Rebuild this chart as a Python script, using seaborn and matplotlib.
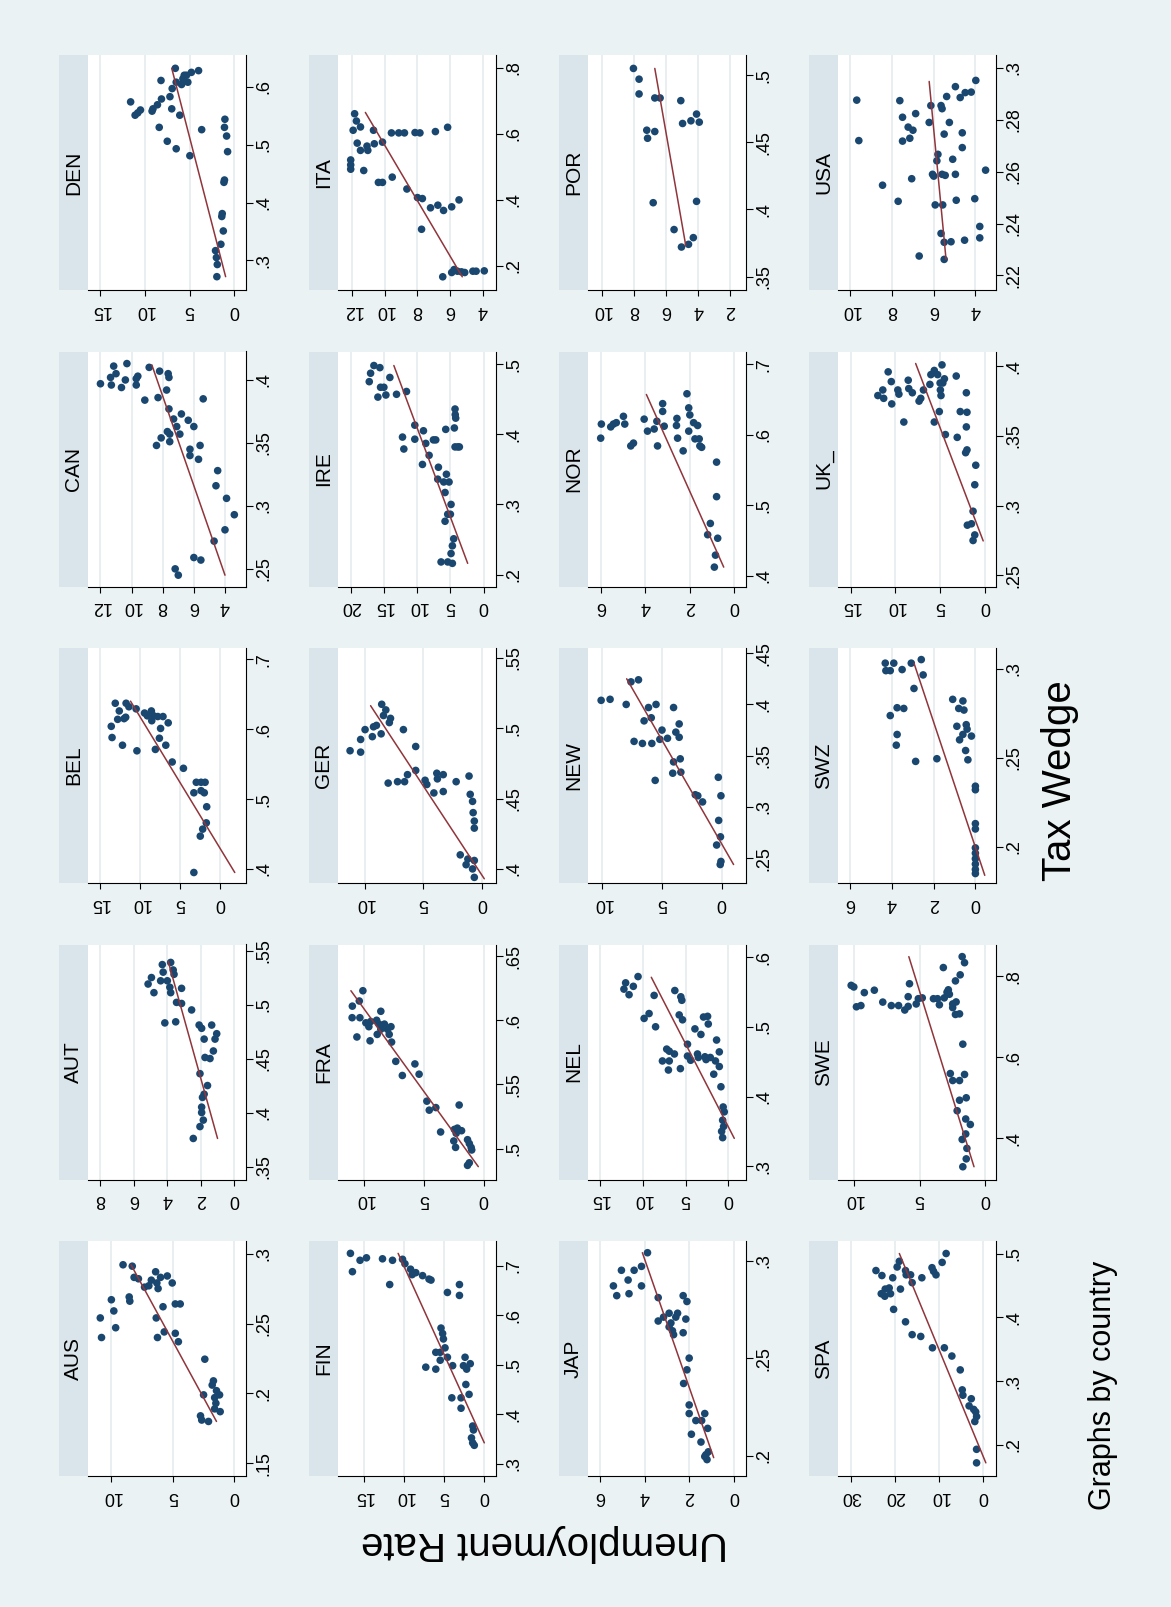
import matplotlib
matplotlib.use('Agg')
import matplotlib.pyplot as plt
import seaborn as sns
import pandas as pd

# --- data (unemployment rate, tax wedge) ---
aus_unemp = [9.05, 8.3, 8.15, 7.8, 7.3, 6.95, 6.75, 6.4, 6.0, 5.45, 5.05, 6.2, 6.3, 8.55, 8.5,
             10.0, 9.8, 10.9, 9.65, 10.8, 5.8, 4.8, 4.4, 6.35, 5.7, 4.8, 4.55, 6.25,
             2.4, 2.5, 1.8, 1.7, 1.45, 1.2, 1.6, 1.5, 1.6, 1.15, 2.75, 2.65, 2.1]
aus_tax = [.292, .291, .283, .282, .276, .277, .281, .287, .283, .284, .279, .275, .279, .269, .266,
           .267, .259, .254, .247, .240, .262, .264, .264, .254, .244, .243, .237, .240,
           .2245, .199, .206, .209, .202, .199, .197, .193, .189, .187, .184, .181, .180]

aut_unemp = [3.8, 4.3, 3.65, 4.25, 3.6, 4.95, 5.15, 4.4, 4.0, 3.85, 3.15, 4.8, 3.8, 3.45, 3.15, 2.55, 4.15, 3.5,
             2.1, 1.95, 1.35, 1.05, 1.8, 1.15, 1.25, 1.75, 1.45,
             2.05, 1.6, 1.8, 1.9, 1.95, 1.95, 1.85, 2.05, 2.45]
aut_tax = [.539, .537, .532, .530, .528, .525, .519, .522, .522, .516, .515, .511, .511, .502, .501, .495, .483, .484,
           .481, .478, .481, .473, .468, .468, .457, .451, .450,
           .436, .425, .417, .414, .405, .400, .393, .387, .376]

bel_unemp = [11.75, 13.1, 12.6, 12.8, 11.8, 13.6, 13.5, 12.2, 10.4, 10.5, 12.0, 11.4,
             9.45, 9.1, 8.6, 8.3, 8.55, 7.8, 7.15, 6.5, 7.45, 7.6, 6.8, 8.1, 6.0, 4.6,
             3.0, 2.4, 1.9, 2.4, 2.0, 3.3, 1.7, 1.75, 2.2, 2.5, 3.3]
bel_tax = [.637, .637, .626, .614, .617, .604, .588, .577, .569, .629, .615, .632,
           .623, .619, .626, .619, .612, .618, .618, .609, .601, .587, .577, .571, .553, .544,
           .524, .524, .524, .512, .509, .509, .489, .466, .457, .447, .395]

can_unemp = [12.0, 11.3, 11.35, 11.15, 11.0, 10.65, 10.4, 10.3, 9.7, 9.7, 9.6, 8.87, 9.15, 8.2, 7.65, 7.6, 7.75, 8.3, 5.4,
             7.6, 6.8, 7.3, 6.36, 6.0, 7.1, 7.7, 7.55, 6.9, 8.1, 7.55, 8.4, 6.25, 5.6, 6.25, 5.7,
             4.47, 4.58, 3.9, 3.4, 4.0, 4.7, 6.0, 5.55, 7.2, 7.0]
can_tax = [.397, .396, .402, .411, .405, .394, .400, .413, .396, .401, .403, .410, .384, .407, .405, .402, .392, .386, .385,
           .377, .373, .369, .368, .363, .363, .359, .357, .357, .354, .351, .348, .345, .348, .340, .337,
           .328, .316, .306, .293, .281, .272, .259, .257, .250, .245]

den_unemp = [6.6, 4.0, 4.8, 5.35, 5.6, 5.2, 5.75, 5.9, 6.5, 6.95, 8.2, 7.2, 8.15, 8.6, 9.1, 9.2,
             11.6, 10.5, 10.8, 11.1, 7.0, 6.1, 8.4, 3.65, 7.5, 6.5, 4.97, 1.05, 1.1, 0.86, 0.75,
             1.1, 1.16, 1.35, 1.4, 1.23, 1.5, 2.1, 2.0, 1.9, 1.95]
den_tax = [.632, .628, .625, .620, .620, .608, .614, .604, .608, .597, .611, .583, .579, .569, .562, .558,
           .574, .560, .555, .551, .562, .551, .530, .526, .506, .493, .481, .544, .530, .515, .488,
           .439, .435, .381, .376, .351, .328, .317, .305, .293, .272]

fin_unemp = [16.7, 16.45, 15.5, 14.7, 12.7, 11.45, 11.8, 10.2, 9.9, 9.2, 9.0, 8.55, 7.7, 6.9, 6.65,
             3.1, 3.1, 4.6, 5.4, 5.2, 5.1, 6.05, 5.5, 4.9, 5.5, 4.6, 7.3, 6.05, 3.95, 2.4, 2.6, 2.2, 1.75,
             2.3, 1.9, 2.9, 4.05, 2.9, 1.45, 1.35, 1.6, 1.45, 1.25]
fin_tax = [.725, .688, .711, .716, .714, .711, .662, .713, .704, .693, .682, .686, .680, .673, .671,
           .662, .640, .646, .574, .563, .552, .525, .525, .534, .509, .515, .495, .491, .498, .515, .498, .491, .502,
           .460, .440, .433, .433, .412, .376, .368, .352, .342, .337]

fra_unemp = [10.1, 10.4, 10.98, 11.0, 10.35, 10.6, 9.5, 8.6, 9.85, 9.6, 9.45, 8.95, 8.75, 8.6, 8.9, 8.3, 8.05, 7.75, 7.9, 7.7,
             7.35, 6.8, 5.75, 5.4, 4.75, 4.55, 4.0, 3.6, 2.05,
             2.45, 2.3, 2.2, 1.85, 2.5, 2.35, 1.35, 1.2, 1.05, 1.0, 1.2, 1.35]
fra_tax = [.623, .615, .611, .602, .602, .587, .584, .607, .598, .595, .599, .600, .597, .593, .589, .597, .593, .595, .589, .583,
           .568, .557, .566, .558, .537, .530, .532, .513, .534,
           .515, .512, .516, .514, .506, .501, .507, .504, .501, .499, .489, .487]

ger_unemp = [8.55, 8.2, 8.4, 7.8, 7.9, 9.97, 9.0, 9.25, 8.6, 9.35, 10.35, 11.25, 10.35, 6.7, 5.65,
             5.65, 6.35, 8.0, 7.2, 6.6, 3.85, 3.8, 3.3, 3.3, 4.85, 4.7, 4.1, 2.2, 1.1, 1.0,
             0.8, 0.75, 0.65, 0.65, 1.85, 1.2, 1.35, 0.8, 0.65, 0.65]
ger_tax = [.517, .513, .509, .507, .504, .499, .502, .501, .496, .494, .492, .484, .483, .499, .487,
           .470, .467, .461, .462, .462, .468, .464, .467, .455, .463, .460, .454, .462, .466, .453,
           .448, .440, .434, .429, .410, .407, .403, .400, .406, .394]

ire_unemp = [16.5, 15.6, 17.0, 17.2, 14.1, 15.5, 15.0, 15.9, 14.7, 13.1, 11.6,
             12.2, 12.0, 10.35, 10.35, 9.05, 8.7, 7.55, 7.2, 8.2, 9.2, 5.7, 4.3, 4.27, 4.2, 4.4, 4.3, 3.9, 3.65,
             6.8, 6.9, 6.0, 5.2, 5.6, 5.8, 4.9, 5.4, 5.0, 5.8, 4.5, 4.7, 4.9, 6.4, 5.4, 4.7]
ire_tax = [.498, .495, .487, .475, .481, .467, .467, .453, .456, .457, .461,
           .396, .379, .413, .393, .405, .387, .392, .392, .370, .357, .407, .436, .428, .423, .409, .382, .382, .382,
           .353, .336, .332, .332, .343, .317, .300, .286, .286, .276, .251, .241, .230, .218, .218, .216]

ita_unemp = [11.86, 11.75, 11.5, 11.95, 10.7, 11.7, 10.65, 11.1, 11.5, 11.05, 10.15, 12.1, 12.1, 12.1, 11.3, 10.4, 10.15, 9.55,
             9.6, 9.15, 8.8, 8.15, 7.85, 6.9, 6.15,
             8.65, 8.0, 7.7, 7.2, 6.75, 6.4, 5.9, 5.45, 7.75,
             6.45, 5.9, 5.75, 5.55, 5.3, 5.1, 4.6, 4.4, 3.9]
ita_tax = [.661, .639, .621, .611, .611, .572, .570, .563, .550, .550, .575, .521, .506, .493, .489, .453, .453, .469,
           .603, .603, .603, .604, .603, .607, .620,
           .433, .407, .404, .376, .384, .368, .379, .400, .311,
           .167, .180, .189, .184, .182, .180, .184, .184, .185]

jap_unemp = [3.87, 4.14, 4.47, 5.04, 5.4, 4.74, 4.14, 5.25, 4.7, 3.39, 2.27, 2.1,
             3.15, 3.39, 2.9, 2.52, 2.6, 2.82, 2.9, 2.75, 2.27, 2.15, 2.7,
             2.0, 2.1, 2.25, 2.0, 2.0, 1.7, 1.3, 1.44, 1.17, 1.9, 1.47, 1.14, 1.25, 1.3, 1.2]
jap_tax = [.304, .297, .295, .295, .287, .290, .287, .282, .283, .281, .282, .279,
           .271, .269, .273, .273, .271, .268, .266, .264, .263, .270, .262,
           .250, .244, .237, .226, .2216, .218, .2216, .218, .214, .211, .207, .202, .2005, .1996, .198]

nel_unemp = [10.55, 12.0, 11.1, 12.2, 11.6, 8.67, 9.84, 9.26, 8.5, 6.25, 5.55, 5.43, 5.74, 5.35, 3.9, 2.9, 2.42, 2.34, 3.2, 1.37, 4.77,
             7.2, 6.9, 6.3, 7.7, 6.9, 7.0, 5.6, 4.77, 4.4, 3.6, 3.5, 2.73, 2.6, 2.1, 1.5, 1.05, 1.05, 1.7, 0.86,
             0.6, 0.47, 0.66, 0.55, 0.78, 0.66]
nel_tax = [.572, .563, .558, .554, .546, .545, .512, .519, .500, .552, .543, .538, .517, .510, .497, .514, .515, .504, .489, .481, .475,
           .468, .465, .461, .451, .451, .438, .440, .458, .452, .461, .456, .457, .453, .456, .451, .464, .443, .432, .414,
           .385, .378, .366, .357, .350, .341]

new_unemp = [6.97, 7.6, 10.1, 9.35, 8.0, 6.13, 5.5, 4.03, 6.5, 5.9, 5.0, 3.56, 4.54, 3.84, 3.56, 7.34, 6.64, 5.85, 5.18, 3.47,
             4.03, 4.1, 5.57, 3.42, 2.21, 2.0, 1.6, 0.28, 0.06, 0.25, 0.1, 0.42, 0.06, 0.12]
new_tax = [.424, .422, .404, .405, .400, .397, .400, .397, .384, .387, .375, .381, .367, .373, .368, .364, .362, .362, .366, .347,
           .344, .333, .326, .334, .312, .311, .305, .329, .311, .287, .271, .263, .247, .244]

nor_unemp = [6.0, 5.97, 5.55, 5.43, 5.3, 4.98, 4.92, 4.65, 4.53, 4.05, 3.9, 3.45,
             3.48, 3.6, 3.22, 3.22, 3.15, 2.58, 2.6, 2.55, 2.3, 2.13, 2.05, 2.0, 2.05, 1.83, 1.65, 1.77, 1.58, 1.55, 1.47,
             0.8, 0.8, 1.08, 1.2, 0.75, 0.85, 0.9]
nor_tax = [.595, .615, .611, .615, .617, .626, .615, .584, .588, .622, .605, .584,
           .619, .608, .644, .633, .612, .623, .613, .595, .577, .658, .638, .628, .605, .617, .613, .594, .594, .584, .582,
           .561, .512, .474, .458, .453, .429, .412]

por_unemp = [8.03, 7.68, 7.68, 6.7, 6.37, 5.08, 4.1, 3.93, 4.45, 4.97, 7.2, 6.7, 7.15, 6.8, 4.1, 5.5, 4.3, 4.6, 5.04]
por_tax = [.505, .497, .486, .483, .483, .481, .471, .465, .466, .464, .459, .458, .453, .405, .406, .385, .379, .374, .372]

spa_unemp = [24.3, 22.95, 19.0, 19.5, 20.5, 17.6, 17.45, 16.45, 16.1, 13.9, 11.6, 11.25, 10.7, 9.3, 8.4,
             23.1, 22.2, 21.3, 22.3, 21.0, 18.75, 20.3, 17.6, 16.1, 14.15,
             11.5, 8.8, 7.1, 5.2, 4.75, 4.6, 2.7, 3.2, 2.15, 1.7, 1.5, 1.9, 1.5, 1.5]
spa_tax = [.4733, .4655, .4878, .4789, .462, .4733, .4666, .4666, .4543, .462, .4778, .4722, .4666, .4861, .500,
           .437, .4443, .446, .4331, .437, .4443, .4125, .393, .3729, .3701,
           .3523, .3523, .3394, .3177, .2864, .278, .2725, .2613, .2558, .2519, .2446, .2368, .1933, .1721]

swe_unemp = [10.2, 10.0, 9.8, 9.46, 9.2, 8.44, 7.8, 7.15, 6.6, 6.13, 5.77, 5.87, 5.87, 5.26, 5.1, 4.8,
             3.95, 3.64, 3.5, 3.2, 3.13, 2.92, 2.82, 2.74, 2.49, 2.23, 2.28, 1.92, 1.77, 1.59, 2.49, 2.28, 1.97,
             1.72, 2.67, 2.49, 1.97, 1.59, 1.46, 1.97, 2.15, 1.5, 1.15, 1.5, 1.77, 1.41, 1.46, 1.72]
swe_tax = [.778, .774, .725, .728, .760, .766, .7366, .728, .728, .717, .782, .750, .726, .732, .745, .747,
           .745, .745, .730, .822, .747, .761, .767, .756, .732, .737, .789, .804, .849, .834, .723, .706, .7075,
           .6326, .560, .5427, .5427, .5577, .500, .494, .468, .4476, .434, .4106, .397, .375, .349, .3295]

swz_unemp = [4.33, 4.3, 4.09, 3.92, 3.52, 3.08, 2.6, 2.51, 2.95, 4.09, 3.76, 3.44, 3.76, 3.8, 2.87, 1.85,
             1.09, 0.6, 0.8, 0.55, 0.89, 0.44, 0.4, 0.6, 0.19, 0.76, 0.47, 0.36,
             0, 0, 0, 0, 0, 0, 0, 0, 0, 0]
swz_tax = [.303, .2988, .2988, .303, .2994, .303, .305, .2964, .2888, .2736, .278, .2776, .263, .257, .2479, .2494,
           .2827, .2818, .2776, .2767, .2676, .2685, .266, .263, .2621, .26, .254, .2488,
           .234, .232, .213, .21, .1994, .1964, .1933, .1903, .1873, .185]

uk_unemp = [11.95, 11.4, 11.3, 10.8, 10.45, 10.4, 9.72, 9.6, 9.05, 8.56, 8.5, 8.1, 7.35, 7.16, 6.86,
            6.14, 6.03, 5.65, 5.28, 5.65, 5.0, 4.97, 4.9, 4.7, 4.52, 4.79, 5.09, 4.41, 3.2, 3.09, 2.75, 2.07, 2.0, 2.07, 2.15,
            2.0, 1.02, 1.13, 1.32, 1.96, 1.5, 1.13, 1.32]
uk_tax = [.379, .383, .377, .396, .389, .373, .383, .380, .360, .390, .384, .381, .375, .377, .383,
          .387, .394, .397, .394, .360, .388, .383, .379, .388, .391, .401, .3675, .351, .393, .349, .3675, .381, .367, .3565, .338,
          .340, .329, .315, .296, .286, .287, .279, .275]

usa_unemp = [9.7, 9.6, 8.46, 7.71, 6.7, 7.63, 7.5, 7.5, 7.23, 7.0, 7.15, 7.06, 6.87, 6.22, 6.14,
             6.06, 6.0, 5.93, 5.85, 5.8, 5.65, 5.6, 5.6, 5.57, 5.65, 5.5, 5.5, 5.5, 5.45, 5.38, 5.25, 5.17, 5.09, 4.96, 4.92,
             4.96, 4.73, 4.63, 4.63, 4.52, 4.49, 4.2, 3.98, 4.03, 3.79, 3.79, 3.51]
usa_tax = [.2876, .272, .2548, .2486, .2275, .2874, .281, .2718, .2772, .276, .2729, .2573, .2824, .279, .2855,
           .259, .2583, .2472, .2642, .2667, .2855, .2843, .259, .2472, .2362, .2328, .2262, .2745, .2586, .289, .279, .233, .2648, .259, .249,
           .2928, .2886, .275, .2693, .2336, .2905, .2907, .2952, .2496, .2389, .2345, .2606]

countries = ['AUS', 'AUT', 'BEL', 'CAN', 'DEN', 'FIN', 'FRA', 'GER', 'IRE', 'ITA',
             'JAP', 'NEL', 'NEW', 'NOR', 'POR', 'SPA', 'SWE', 'SWZ', 'UK_', 'USA']
unemp_data = [aus_unemp, aut_unemp, bel_unemp, can_unemp, den_unemp, fin_unemp, fra_unemp, ger_unemp, ire_unemp, ita_unemp,
              jap_unemp, nel_unemp, new_unemp, nor_unemp, por_unemp, spa_unemp, swe_unemp, swz_unemp, uk_unemp, usa_unemp]
tax_data = [aus_tax, aut_tax, bel_tax, can_tax, den_tax, fin_tax, fra_tax, ger_tax, ire_tax, ita_tax,
            jap_tax, nel_tax, new_tax, nor_tax, por_tax, spa_tax, swe_tax, swz_tax, uk_tax, usa_tax]

# linear fit end points (tax wedge, unemployment)
fit_tax = {'AUS': [.180, .292], 'AUT': [.376, .540], 'BEL': [.395, .640], 'CAN': [.245, .412], 'DEN': [.272, .632],
           'FIN': [.342, .725], 'FRA': [.486, .623], 'GER': [.393, .516], 'IRE': [.216, .498], 'ITA': [.167, .665],
           'JAP': [.199, .304], 'NEL': [.340, .571], 'NEW': [.244, .425], 'NOR': [.412, .657], 'POR': [.373, .505],
           'SPA': [.1721, .500], 'SWE': [.3295, .849], 'SWZ': [.184, .303], 'UK_': [.2747, .402], 'USA': [.2262, .2948]}
fit_unemp = {'AUS': [1.45, 8.4], 'AUT': [1.0, 3.95], 'BEL': [-1.8, 11.2], 'CAN': [4.0, 8.7], 'DEN': [0.97, 7.0],
             'FIN': [0.0, 10.75], 'FRA': [0.45, 11.1], 'GER': [-0.2, 9.5], 'IRE': [2.4, 13.5], 'ITA': [5.25, 11.2],
             'JAP': [0.9, 4.1], 'NEL': [-0.7, 9.0], 'NEW': [-1.0, 7.96], 'NOR': [0.48, 3.95], 'POR': [4.77, 6.7],
             'SPA': [-0.6, 19.0], 'SWE': [0.87, 5.82], 'SWZ': [-0.45, 2.95], 'UK_': [0.19, 7.73], 'USA': [5.41, 6.22]}

# axis ticks and ranges per panel
unemp_ticks = {'AUS': [0, 5, 10], 'AUT': [0, 2, 4, 6, 8], 'BEL': [0, 5, 10, 15], 'CAN': [4, 6, 8, 10, 12],
               'DEN': [0, 5, 10, 15], 'FIN': [0, 5, 10, 15], 'FRA': [0, 5, 10], 'GER': [0, 5, 10],
               'IRE': [0, 5, 10, 15, 20], 'ITA': [4, 6, 8, 10, 12], 'JAP': [0, 2, 4, 6], 'NEL': [0, 5, 10, 15],
               'NEW': [0, 5, 10], 'NOR': [0, 2, 4, 6], 'POR': [2, 4, 6, 8, 10], 'SPA': [0, 10, 20, 30],
               'SWE': [0, 5, 10], 'SWZ': [0, 2, 4, 6], 'UK_': [0, 5, 10, 15], 'USA': [4, 6, 8, 10]}
tax_ticks = {'AUS': [.15, .2, .25, .3], 'AUT': [.35, .4, .45, .5, .55], 'BEL': [.4, .5, .6, .7], 'CAN': [.25, .3, .35, .4],
             'DEN': [.3, .4, .5, .6], 'FIN': [.3, .4, .5, .6, .7], 'FRA': [.5, .55, .6, .65], 'GER': [.4, .45, .5, .55],
             'IRE': [.2, .3, .4, .5], 'ITA': [.2, .4, .6, .8], 'JAP': [.2, .25, .3], 'NEL': [.3, .4, .5, .6],
             'NEW': [.25, .3, .35, .4, .45], 'NOR': [.4, .5, .6, .7], 'POR': [.35, .4, .45, .5], 'SPA': [.2, .3, .4, .5],
             'SWE': [.4, .6, .8], 'SWZ': [.2, .25, .3], 'UK_': [.25, .3, .35, .4], 'USA': [.22, .24, .26, .28, .3]}
unemp_lim = {'AUS': (11.9, -0.95), 'AUT': (8.74, -0.7), 'BEL': (16.5, -3.2), 'CAN': (12.8, 2.65), 'DEN': (16.37, -1.31),
             'FIN': (18.25, -1.46), 'FRA': (12.18, -1.03), 'GER': (12.28, -1.2), 'IRE': (21.9, -1.86), 'ITA': (12.88, 3.18),
             'JAP': (6.54, -0.55), 'NEL': (16.4, -2.07), 'NEW': (11.2, -2.04), 'NOR': (6.57, -0.52), 'POR': (10.86, 1.02),
             'SPA': (32.9, -2.9), 'SWE': (11.2, -0.8), 'SWZ': (6.6, -0.99), 'UK_': (16.4, -1.24), 'USA': (10.6, 3.01)}
tax_lim = {'AUS': (.141, .309), 'AUT': (.338, .5556), 'BEL': (.38, .716), 'CAN': (.236, .4226), 'DEN': (.249, .655),
           'FIN': (.275, .750), 'FRA': (.476, .659), 'GER': (.390, .557), 'IRE': (.183, .518), 'ITA': (.127, .839),
           'JAP': (.1896, .310), 'NEL': (.281, .618), 'NEW': (.226, .455), 'NOR': (.3845, .718), 'POR': (.34, .515),
           'SPA': (.1515, .5196), 'SWE': (.298, .879), 'SWZ': (.1797, .3115), 'UK_': (.242, .4106), 'USA': (.2144, .305)}

rows = []
for name, u, t in zip(countries, unemp_data, tax_data):
    for a, b in zip(u, t):
        rows.append({'country': name, 'unemp': a, 'tax': b})
df = pd.DataFrame(rows)

BG = '#EAF2F3'
STRIP = '#D9E5EB'
NAVY = '#1A476F'
MAROON = '#90353B'
GRID = '#E3EBEE'

sns.set_theme(style='white')
plt.rcParams['font.family'] = ['Liberation Sans', 'DejaVu Sans']


def fmt_tax(v):
    s = f"{v:g}"
    return s[1:] if s.startswith('0.') else s


W, H = 1171, 1607
fig = plt.figure(figsize=(W / 100, H / 100), dpi=100, facecolor=BG)

for k, name in enumerate(countries):
    r, c = divmod(k, 5)
    x0 = 88 + 250 * r
    y0 = 55 + 296.5 * (4 - c)
    ph = 235
    ax = fig.add_axes([x0 / W, 1 - (y0 + ph) / H, 158 / W, ph / H])
    hx = fig.add_axes([(x0 - 29) / W, 1 - (y0 + ph) / H, 29 / W, ph / H])

    sub = df[df['country'] == name]
    sns.scatterplot(data=sub, x='unemp', y='tax', ax=ax, s=30, color=NAVY,
                    edgecolor='none', linewidth=0, zorder=3, legend=False)
    ax.plot(fit_unemp[name], fit_tax[name], color=MAROON, lw=1.1, zorder=4)

    ax.set_facecolor('white')
    ax.set_xlim(*unemp_lim[name])
    ax.set_ylim(*tax_lim[name])
    ax.set_xticks(unemp_ticks[name])
    ax.set_xticklabels([f"{v:g}" for v in unemp_ticks[name]])
    ax.set_yticks(tax_ticks[name])
    ax.set_yticklabels([fmt_tax(v) for v in tax_ticks[name]])
    ax.yaxis.tick_right()
    ax.xaxis.tick_bottom()
    ax.tick_params(axis='x', labelrotation=180, labelsize=13, length=4.5, width=0.8,
                   color='black', labelcolor='black', pad=4, bottom=True)
    ax.tick_params(axis='y', labelrotation=90, labelsize=13, length=5, width=0.8,
                   color='black', labelcolor='black', pad=2, right=True, left=False)
    for lab in ax.get_yticklabels():
        lab.set_va('center')
    ax.grid(axis='x', color=GRID, lw=1.1)
    ax.grid(axis='y', visible=False)
    ax.set_axisbelow(True)
    ax.set_xlabel('')
    ax.set_ylabel('')
    for side in ['top', 'left']:
        ax.spines[side].set_visible(False)
    for side in ['bottom', 'right']:
        ax.spines[side].set_color('black')
        ax.spines[side].set_linewidth(0.8)

    hx.set_facecolor(STRIP)
    hx.set_xticks([])
    hx.set_yticks([])
    for sp in hx.spines.values():
        sp.set_visible(False)
    hx.text(0.5, 0.5, name, rotation=90, ha='center', va='center',
            fontsize=15, color='black', transform=hx.transAxes)

fig.text(1060 / W, 1 - 781 / H, 'Tax Wedge', rotation=90, fontsize=29,
         ha='center', va='center', color='black')
fig.text(545 / W, 1 - 1543 / H, 'Unemployment Rate', rotation=180, fontsize=29,
         ha='center', va='center', color='black')
fig.text(1103 / W, 1 - 1385 / H, 'Graphs by country', rotation=90, fontsize=22,
         ha='center', va='center', color='black')

fig.savefig('out.png', dpi=100, facecolor=BG)
